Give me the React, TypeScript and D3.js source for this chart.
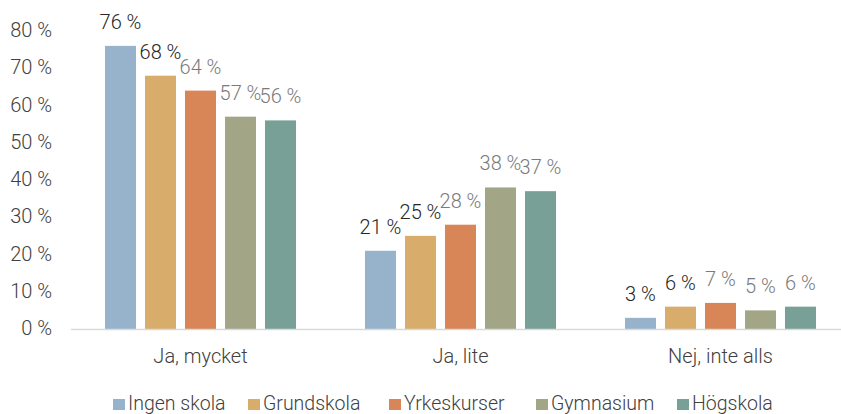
import React from 'react';
import * as d3 from 'd3';

const categories = ['Ja, mycket', 'Ja, lite', 'Nej, inte alls'];
const seriesNames = ['Ingen skola', 'Grundskola', 'Yrkeskurser', 'Gymnasium', 'Högskola'];
const ingenSkola = [76, 21, 3];
const grundskola = [68, 25, 6];
const yrkeskurser = [64, 28, 7];
const gymnasium = [57, 38, 5];
const hogskola = [56, 37, 6];
const yTicks = [0, 10, 20, 30, 40, 50, 60, 70, 80];

const seriesValues = [ingenSkola, grundskola, yrkeskurser, gymnasium, hogskola];
const colors = ['#97b3cb', '#d8ad6c', '#d88557', '#a2a686', '#78a096'];
const labelColors = ['#262626', '#262626', '#7a7a7a', '#7a7a7a', '#7a7a7a'];
const font = 'Roboto, "Liberation Sans", sans-serif';

const W = 841;
const H = 414;

export default function App() {
  const x0 = d3.scaleBand().domain(categories).range([70.5, 850.5]);
  const x1 = d3
    .scaleBand()
    .domain(seriesNames)
    .range([0, x0.bandwidth()])
    .paddingInner(0.225)
    .paddingOuter(0.8625);
  const y = d3.scaleLinear().domain([0, 80]).range([329, 31]);

  // legend square left edges
  const legendX = [113, 248, 389, 536, 677];

  return (
    <svg width={W} height={H} style={{ position: 'absolute', left: 0, top: 0, background: '#fff' }} fontFamily={font} fontWeight={300}>
      {yTicks.map((t) => (
        <text key={t} x={52} y={y(t) + 6} textAnchor="end" fontSize={20} fill="#404040">
          {t} %
        </text>
      ))}
      {seriesNames.map((s, si) =>
        categories.map((c, ci) => {
          const v = seriesValues[si][ci];
          const bx = (x0(c) ?? 0) + (x1(s) ?? 0);
          return (
            <g key={s + c}>
              <rect x={bx} y={y(v)} width={x1.bandwidth()} height={y(0) - y(v)} fill={colors[si]} />
              <text x={bx + x1.bandwidth() / 2} y={y(v) - 17} textAnchor="middle" fontSize={20} fill={labelColors[si]}>
                {v} %
              </text>
            </g>
          );
        })
      )}
      <line x1={71} x2={W} y1={y(0) + 0.5} y2={y(0) + 0.5} stroke="#d9d9d9" strokeWidth={1.5} />
      {categories.map((c) => (
        <text key={c} x={(x0(c) ?? 0) + x0.bandwidth() / 2} y={363} textAnchor="middle" fontSize={20} fill="#404040">
          {c}
        </text>
      ))}
      {seriesNames.map((s, i) => (
        <g key={s}>
          <rect x={legendX[i]} y={399} width={12} height={11} fill={colors[i]} />
          <text x={legendX[i] + 15} y={409.5} fontSize={19.5} fill="#404040">
            {s}
          </text>
        </g>
      ))}
    </svg>
  );
}
